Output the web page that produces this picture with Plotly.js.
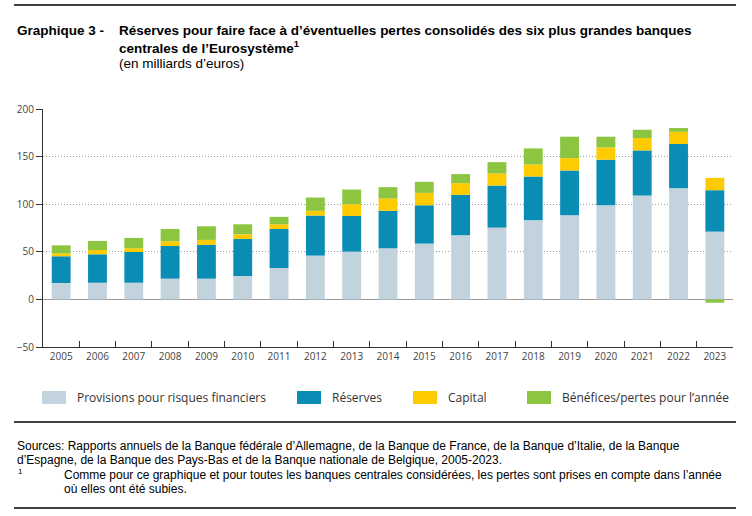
<!DOCTYPE html>
<html>
<head>
<meta charset="utf-8">
<script src="https://cdn.plot.ly/plotly-3.0.1.min.js"></script>
<style>html,body{margin:0;padding:0;background:#fff;}#chart{width:752px;height:516px;}</style>
</head>
<body>
<div id="chart"></div>
<script>
const years = ['2005','2006','2007','2008','2009','2010','2011','2012','2013','2014','2015','2016','2017','2018','2019','2020','2021','2022','2023'];
const provisions = [17.2, 17.5, 17.5, 21.8, 21.8, 24.6, 33.0, 46.0, 50.2, 53.7, 58.6, 67.4, 75.4, 83.2, 88.4, 98.9, 109.1, 116.8, 71.2];
const reserves   = [28.1, 29.9, 32.3, 34.3, 35.4, 38.9, 41.0, 42.1, 37.5, 39.3, 40.3, 42.4, 44.2, 45.9, 47.0, 47.8, 47.4, 46.4, 43.5];
const capital    = [3.1, 4.5, 3.9, 5.0, 5.3, 4.9, 4.9, 4.9, 12.3, 13.0, 13.0, 12.3, 12.7, 12.7, 13.0, 12.9, 13.0, 12.9, 13.0];
const profits    = [8.4, 9.5, 10.9, 12.9, 14.3, 10.5, 7.8, 14.0, 15.4, 11.9, 11.6, 9.5, 11.9, 16.8, 22.5, 11.3, 8.7, 3.9, -3.5];
const seriesNames = ['Provisions pour risques financiers', 'Réserves', 'Capital', 'Bénéfices/pertes pour l\u2019année'];
const seriesColors = ['#c3d3de', '#0a8db5', '#fdcb00', '#8cc540'];
const yTicks = [-50, 0, 50, 100, 150, 200];

const W = 752, H = 516;
const M = {l: 43, r: 19, t: 109, b: 169};
const PW = W - M.l - M.r, PH = H - M.t - M.b;
const px = x => (x - M.l) / PW;
const py = y => (H - M.b - y) / PH;

const seriesData = [provisions, reserves, capital, profits];
const traces = seriesData.map((vals, i) => ({
  type: 'bar', x: years, y: vals, name: seriesNames[i],
  marker: {color: seriesColors[i], line: {width: 0}},
  showlegend: false, hoverinfo: 'x+y+name'
}));

const serif = 'Liberation Sans, Arial, sans-serif';
const sans = 'Open Sans, Noto Sans, sans-serif';

const annotations = [
  {text: '<b>Graphique 3 -</b>', x: px(15), y: py(30), font: {family: serif, size: 13.5, color: '#000'}},
  {text: '<b>Réserves pour faire face à d\u2019éventuelles pertes consolidés des six plus grandes banques</b>', x: px(117), y: py(30), font: {family: serif, size: 13.5, color: '#000'}},
  {text: '<b>centrales de l\u2019Eurosystème<sup>1</sup></b>', x: px(117), y: py(47), font: {family: serif, size: 13.5, color: '#000'}},
  {text: '(en milliards d\u2019euros)', x: px(117), y: py(63), font: {family: serif, size: 13.5, color: '#000'}},
  {text: 'Sources: Rapports annuels de la Banque fédérale d\u2019Allemagne, de la Banque de France, de la Banque d\u2019Italie, de la Banque', x: px(15), y: py(446), font: {family: serif, size: 12, color: '#000'}},
  {text: 'd\u2019Espagne, de la Banque des Pays-Bas et de la Banque nationale de Belgique, 2005-2023.', x: px(15), y: py(460), font: {family: serif, size: 12, color: '#000'}},
  {text: '1', x: px(16), y: py(471), font: {family: serif, size: 8, color: '#000'}},
  {text: 'Comme pour ce graphique et pour toutes les banques centrales considérées, les pertes sont prises en compte dans l\u2019année', x: px(62), y: py(475), font: {family: serif, size: 12, color: '#000'}},
  {text: 'où elles ont été subies.', x: px(62), y: py(489), font: {family: serif, size: 12, color: '#000'}}
].map(a => Object.assign({xref: 'paper', yref: 'paper', xanchor: 'left', yanchor: 'middle', showarrow: false}, a));

const legendSwatchX = [42, 297, 413, 527];
const shapes = [
  {type: 'line', xref: 'paper', yref: 'paper', x0: px(14), x1: px(736), y0: py(5), y1: py(5), line: {color: '#000', width: 1.5}},
  {type: 'line', xref: 'paper', yref: 'paper', x0: px(14), x1: px(736), y0: py(422), y1: py(422), line: {color: '#000', width: 1.5}},
  {type: 'line', xref: 'paper', yref: 'paper', x0: px(14), x1: px(736), y0: py(508), y1: py(508), line: {color: '#000', width: 1.5}}
];
seriesNames.forEach((n, i) => {
  const sx = legendSwatchX[i];
  shapes.push({type: 'rect', xref: 'paper', yref: 'paper', x0: px(sx), x1: px(sx + 24), y0: py(391), y1: py(404), fillcolor: seriesColors[i], line: {width: 0}});
  annotations.push({text: n, xref: 'paper', yref: 'paper', x: px(sx + 33), y: py(397.5), xanchor: 'left', yanchor: 'middle', showarrow: false, font: {family: sans, size: 12, color: '#333'}});
});

const layout = {
  width: W, height: H,
  margin: M,
  paper_bgcolor: '#fff', plot_bgcolor: '#fff',
  barmode: 'relative', bargap: 0.48,
  showlegend: false,
  xaxis: {
    type: 'category', showline: true, linecolor: '#333', linewidth: 1,
    ticks: 'inside', tickson: 'boundaries', ticklen: 6, tickcolor: '#333', tickwidth: 1,
    tickfont: {family: sans, size: 10, color: '#444'}, showgrid: false, zeroline: false,
    fixedrange: true
  },
  yaxis: {
    range: [-50, 200], tickvals: yTicks, ticks: 'outside', ticklen: 6, tickcolor: '#333', tickwidth: 1,
    showline: true, linecolor: '#333', linewidth: 1,
    showgrid: true, gridcolor: '#999', griddash: '1px,2px', gridwidth: 1,
    zeroline: true, zerolinecolor: '#999', zerolinewidth: 1.2,
    tickfont: {family: sans, size: 10, color: '#444'}, fixedrange: true
  },
  annotations: annotations,
  shapes: shapes
};

Plotly.newPlot('chart', traces, layout, {displayModeBar: false, staticPlot: true});
</script>
</body>
</html>
